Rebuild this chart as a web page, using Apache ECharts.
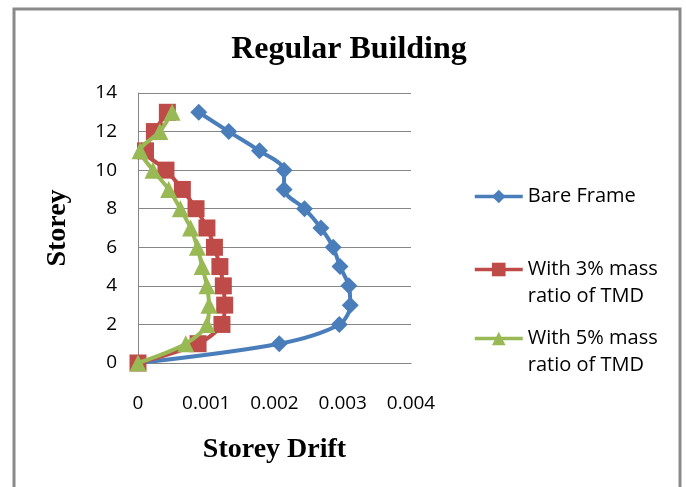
<!DOCTYPE html>
<html>
<head>
<meta charset="utf-8">
<script src="https://cdn.jsdelivr.net/npm/echarts@6/dist/echarts.min.js"></script>
<style>
  html, body { margin: 0; padding: 0; background: #fff; }
  #chart { width: 686px; height: 487px; }
</style>
</head>
<body>
<div id="chart"></div>
<script>
// Storey levels (y) and drift per storey (x) for each case
const storeys = [0, 1, 2, 3, 4, 5, 6, 7, 8, 9, 10, 11, 12, 13];
const bareFrame = [0, 0.00207, 0.00295, 0.00311, 0.00309, 0.00296, 0.00286, 0.00268, 0.00244, 0.00214, 0.00214, 0.00178, 0.00133, 0.00089];
const tmd3 = [0, 0.00088, 0.00123, 0.00127, 0.00125, 0.00120, 0.00112, 0.00101, 0.00085, 0.00065, 0.00041, 0.00011, 0.00024, 0.00043];
const tmd5 = [0, 0.00070, 0.00101, 0.00104, 0.00101, 0.00094, 0.00087, 0.00077, 0.00062, 0.00045, 0.00022, 0.00003, 0.00032, 0.00050];

const xTickLabels = ['0', '0.001', '0.002', '0.003', '0.004'];
const yTickLabels = ['0', '2', '4', '6', '8', '10', '12', '14'];

const seriesNames = ['Bare Frame', 'With 3% mass ratio of TMD', 'With 5% mass ratio of TMD'];
const colors = ['#4A7EBB', '#BE4B48', '#98B954'];
const symbols = ['diamond', 'rect', 'triangle'];
const symbolSizes = [17, 17, 17];

const pairs = (xs) => xs.map((x, i) => [x, storeys[i]]);
const values = [bareFrame, tmd3, tmd5];

const tickFont = { fontFamily: 'Open Sans', fontSize: 19, color: '#000' };
const nameFont = { fontFamily: 'Liberation Serif', fontWeight: 'bold', fontSize: 28, color: '#000' };

const chart = echarts.init(document.getElementById('chart'), null, { renderer: 'canvas' });

// Two-line legend entries get a blank leading line so the icon sits on the first text line
const legendTops = [183, 229, 298];
const legends = seriesNames.map((name, i) => ({
  data: [name],
  left: 473,
  top: legendTops[i],
  padding: 0,
  itemWidth: 48,
  itemHeight: 17,
  itemGap: 0,
  selectedMode: false,
  lineStyle: { width: 3.5 },
  formatter: (n) => (n.indexOf(' ratio') >= 0 ? ' \n' + n.replace(' ratio', '\nratio') : n),
  textStyle: {
    fontFamily: 'Open Sans',
    fontSize: 20,
    color: '#000',
    lineHeight: 27
  }
}));

chart.setOption({
  animation: false,
  backgroundColor: '#fff',
  title: {
    text: 'Regular Building',
    left: 344,
    top: 29,
    textAlign: 'center',
    textStyle: { fontFamily: 'Liberation Serif', fontWeight: 'bold', fontSize: 32, color: '#000' }
  },
  graphic: [{
    type: 'rect',
    shape: { x: 14, y: 9, width: 666, height: 500 },
    style: { fill: null, stroke: '#8a8a8a', lineWidth: 3 },
    silent: true
  }],
  legend: legends,
  grid: { left: 138, right: 275, top: 93, bottom: 124, containLabel: false },
  xAxis: {
    type: 'value',
    min: 0, max: 0.004, interval: 0.001,
    name: 'Storey Drift',
    nameLocation: 'middle',
    nameGap: 73,
    nameTextStyle: nameFont,
    axisLine: { show: true, lineStyle: { color: '#868686', width: 1 } },
    axisTick: { show: false },
    splitLine: { show: false },
    axisLabel: {
      ...tickFont,
      margin: 31,
      formatter: (v) => xTickLabels[Math.round(v / 0.001)]
    }
  },
  yAxis: {
    type: 'value',
    min: 0, max: 14, interval: 2,
    name: 'Storey',
    nameLocation: 'middle',
    nameGap: 66,
    nameRotate: 90,
    nameTextStyle: nameFont,
    axisLine: { show: true, lineStyle: { color: '#868686', width: 1 } },
    axisTick: { show: false },
    splitLine: { show: true, lineStyle: { color: '#868686', width: 1 } },
    axisLabel: {
      ...tickFont,
      margin: 21,
      formatter: (v) => yTickLabels[Math.round(v / 2)]
    }
  },
  // later series are drawn over earlier ones
  series: seriesNames.map((name, i) => ({
    name,
    type: 'line',
    data: pairs(values[i]),
    smooth: 0.3,
    symbol: symbols[i],
    symbolSize: symbolSizes[i],
    showAllSymbol: true,
    color: colors[i],
    lineStyle: { color: colors[i], width: 4 },
    itemStyle: { color: colors[i] },
    z: 2 + i
  }))
});
</script>
</body>
</html>
